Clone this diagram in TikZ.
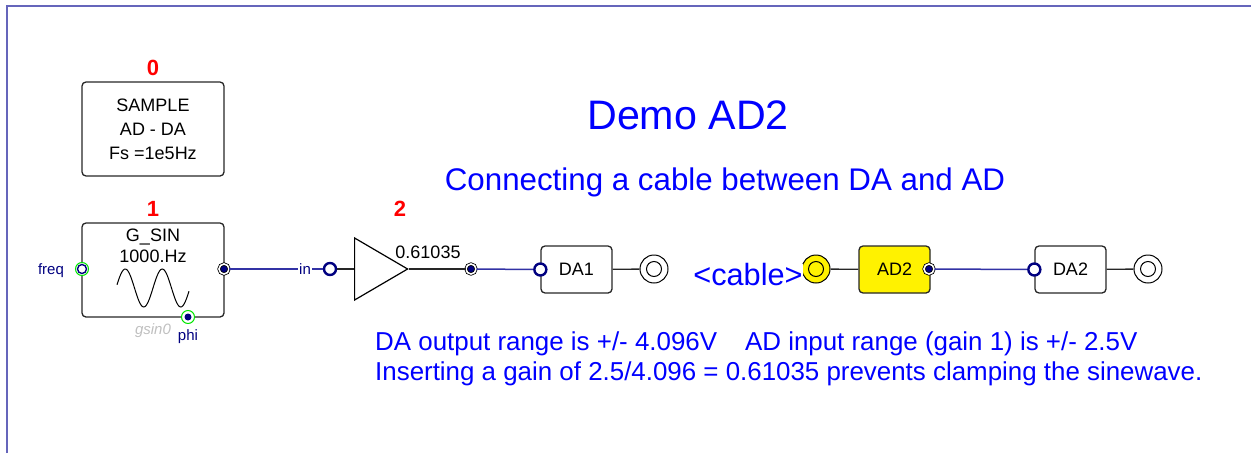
\documentclass[tikz,border=0pt]{standalone}
\usepackage{fontspec}
\setmainfont{Liberation Sans}
\usetikzlibrary{positioning,shapes.geometric}
\definecolor{navy}{RGB}{0,0,128}
\definecolor{wire}{RGB}{50,50,165}
\definecolor{titleblue}{RGB}{0,0,255}
\definecolor{ringgreen}{RGB}{0,230,0}
\tikzset{
   block/.style={draw=black!85,line width=1.3pt,rounded corners=4pt,minimum width=142pt,minimum height=94pt,inner sep=0pt,align=center,font=\fontsize{18}{24}\selectfont},
   conv/.style={block,minimum width=71pt,minimum height=47pt},
   portin/.style={circle,draw=navy,fill=white,line width=2.4pt,minimum size=12pt,inner sep=0pt},
   portout/.style={circle,draw=black,fill=navy,double=white,double distance=1.6pt,line width=.8pt,minimum size=10pt,inner sep=0pt},
   jack/.style={circle,draw=black,fill=white,line width=1pt,minimum size=28pt,inner sep=0pt},
   jackin/.style={circle,draw=black,fill=none,line width=1pt,minimum size=15pt,inner sep=0pt},
   num/.style={text=red,font=\fontsize{22}{24}\selectfont\bfseries},
   pinname/.style={text=navy,font=\fontsize{15}{16}\selectfont},
   blue/.style={text=titleblue,inner sep=0pt}
}
\begin{document}
\begin{tikzpicture}[x=1pt,y=-1pt,node distance=71pt,on grid]
   \useasboundingbox (0,0) rectangle (1251,453);
   \draw[wire!75,line width=1.6pt] (7,453) -- (7,6) -- (1251,6);

   \node[block] (b_0) at (153,129) {SAMPLE\\AD - DA\\Fs =1e5Hz};
   \node[block] (b_1) [below=141pt of b_0] {};
   \node (t_1) at (153,246) [align=center,font=\fontsize{18}{20.5}\selectfont] {G\_SIN\\1000.Hz};
   \draw[line width=1pt] plot[domain=117:189,samples=60,smooth] (\x,{288-19*sin((\x-116)/37*360)});
   \node[num] (n_0) [above=61pt of b_0] {0};
   \node[num] (n_1) [above=61pt of b_1] {1};
   \node (p_f) at (82,269) [portin,draw=ringgreen,line width=1pt,minimum size=13pt] {};
   \node (p_fi) at (p_f) [portin,line width=1.4pt,minimum size=9pt] {};
   \node (p_p) at (188,317) [circle,draw=ringgreen,fill=white,line width=1pt,minimum size=13pt,inner sep=0pt] {};
   \node (p_pi) at (p_p) [circle,fill=navy,minimum size=7pt,inner sep=0pt] {};
   \node (p_o) at (224,269) [portout] {};
   \node[pinname] (l_f) at (51,271) {freq};
   \node[pinname] (l_p) at (188,337) {phi};
   \node (l_g) at (153,331) [text=black!25,font=\fontsize{15}{16}\selectfont\itshape] {gsin0};

   \node (p_in) at (330,269) [portin] {};
   \node (gain) [isosceles triangle,isosceles triangle stretches,draw=black,line width=1.2pt,minimum width=62pt,minimum height=53pt,inner sep=0pt,anchor=lower side] at (354,269) {};
   \node[num] (n_2) at (400,209) {2};
   \node (l_k) at (428,252) [font=\fontsize{18}{20}\selectfont] {0.61035};
   \node (p_k) at (471,269) [portout] {};

   \node[conv] (da_1) at (576.5,269.5) {DA1};
   \node (i_1) at (da_1.west) [portin] {};
   \node[jack] (j_1) at (654,269) {};
   \node[jackin] (c_1) at (j_1) {};

   \node[jack,fill=yellow] (j_2) at (816,269) {};
   \node[jackin] (c_2) at (j_2) {};
   \node[blue,fill=white,font=\fontsize{30.7}{32}\selectfont] (cable) at (748,275) {<cable>};
   \node[conv,fill=yellow] (ad_2) at (894.5,269.5) {AD2};
   \node (o_2) at (929,269) [portout] {};
   \node[conv] (da_2) at (1070.5,269.5) {DA2};
   \node (i_2) at (da_2.west) [portin] {};
   \node[jack] (j_3) at (1148,269) {};
   \node[jackin] (c_3) at (j_3) {};

   \node[blue,font=\fontsize{41.2}{44}\selectfont] (title) at (688,115) {Demo AD2};
   \node[blue,font=\fontsize{31.3}{34}\selectfont] (sub) at (725,182) {Connecting a cable between DA and AD};
   \node[blue,font=\fontsize{25.9}{30}\selectfont,align=left,anchor=north west] (note) at (375,332) {DA output range is +/- 4.096V\hspace{28pt}AD input range (gain 1) is +/- 2.5V\\Inserting a gain of 2.5/4.096 = 0.61035 prevents clamping the sinewave.};

   \path[wire,line width=1.5pt]
    (p_o) edge node (l_in) [pos=.81,fill=white,text=navy,inner sep=1pt,font=\fontsize{15}{16}\selectfont] {in} (p_in)
    (p_k) edge (i_1)
    (o_2) edge (i_2);
   \path[black!85,line width=1.3pt]
    (p_in) edge (gain.lower side)
    (gain.apex) edge (p_k)
    (da_1) edge (j_1)
    (j_2) edge (ad_2)
    (da_2) edge (j_3);
\end{tikzpicture}
\end{document}
